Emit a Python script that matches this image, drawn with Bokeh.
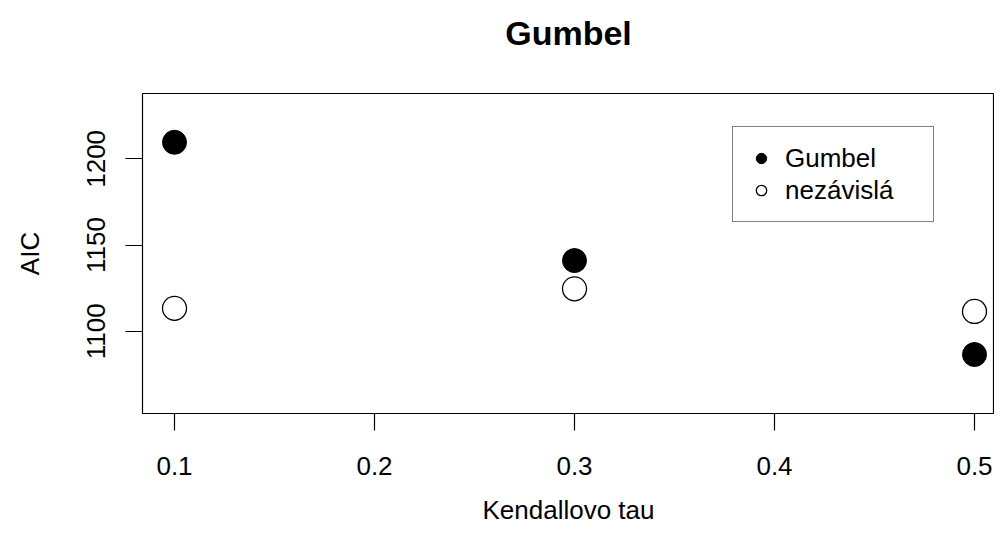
from bokeh.plotting import figure
from bokeh.models import Legend, LegendItem, FixedTicker, Range1d, Title
from bokeh.embed import file_html
from bokeh.resources import INLINE

# data
tau = [0.1, 0.3, 0.5]
aic_gumbel = [1209.6, 1141.0, 1086.5]
aic_nezavisla = [1113.3, 1124.6, 1111.5]
x_ticks = [0.1, 0.2, 0.3, 0.4, 0.5]
y_ticks = [1100, 1150, 1200]
title_text = "Gumbel"

FONT = "Liberation Sans"

p = figure(width=994, height=532, output_backend="svg", toolbar_location=None,
           x_range=Range1d(0.084, 0.51), y_range=Range1d(1052.3, 1237.9),
           min_border_left=142, min_border_right=0, min_border_top=93, min_border_bottom=119)
p.background_fill_color = "white"
p.border_fill_color = "white"
p.outline_line_color = "black"
p.outline_line_width = 1.2
p.grid.visible = False

xax = p.below[0]
yax = p.left[0]

# blank spacer panel next to the frame, pushes the title upward
spacer = Title(text=" ", align="center", text_font=FONT, text_font_size="26px",
               text_color="white", standoff=6)
p.add_layout(spacer, "above")

t = Title(text=title_text, align="center", text_font=FONT, text_font_size="34px",
          text_font_style="bold", text_color="black", standoff=8)
p.add_layout(t, "above")

r1 = p.scatter(tau, aic_gumbel, size=24, marker="circle", fill_color="black", line_color="black")
r2 = p.scatter(tau, aic_nezavisla, size=24, marker="circle", fill_color="white",
               line_color="black", line_width=1.3)

for ax in (xax, yax):
    ax.axis_line_color = None
    ax.major_tick_line_color = "black"
    ax.major_tick_line_width = 1.2
    ax.major_tick_out = 17
    ax.major_tick_in = 0
    ax.minor_tick_line_color = None
    ax.major_label_text_font = FONT
    ax.major_label_text_font_size = "26px"
    ax.major_label_text_color = "black"
    ax.axis_label_text_font = FONT
    ax.axis_label_text_font_size = "26px"
    ax.axis_label_text_font_style = "normal"
    ax.axis_label_text_color = "black"

xax.ticker = FixedTicker(ticks=x_ticks)
yax.ticker = FixedTicker(ticks=y_ticks)
xax.axis_label = "Kendallovo tau"
yax.axis_label = "AIC"
xax.major_label_standoff = 26
yax.major_label_standoff = 20
yax.major_label_orientation = "vertical"
xax.axis_label_standoff = 17
yax.axis_label_standoff = 40

legend = Legend(items=[LegendItem(label="Gumbel", renderers=[r1]),
                       LegendItem(label="nezávislá", renderers=[r2])],
                location=(590, 191), orientation="vertical",
                glyph_width=26, glyph_height=32, spacing=0, padding=15,
                label_standoff=11, label_width=133, label_height=32, margin=0,
                label_text_font=FONT, label_text_font_size="26px", label_text_color="black",
                border_line_color="black", border_line_width=1.2,
                background_fill_color="white", background_fill_alpha=1.0)
p.add_layout(legend)

open("out.html", "w").write(file_html(p, INLINE))
